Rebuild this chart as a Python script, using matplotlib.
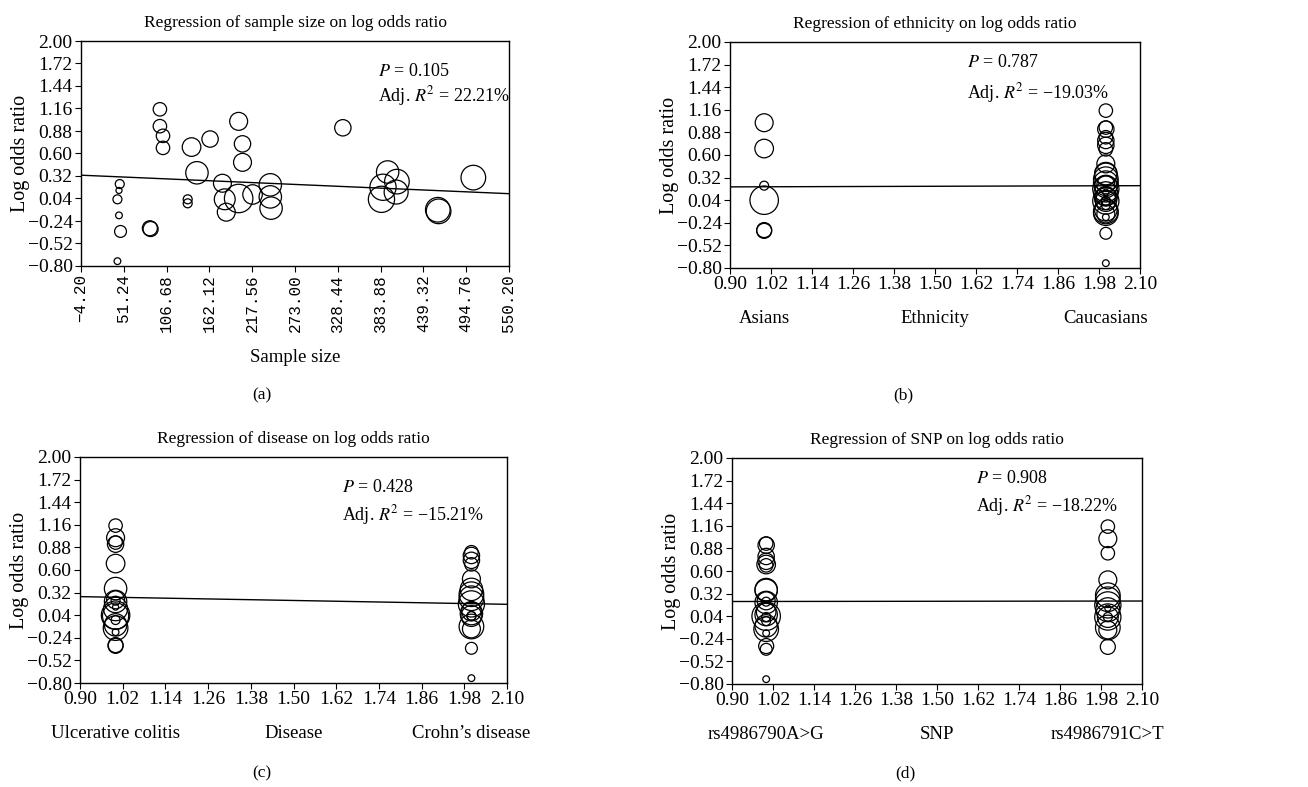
import numpy as np
import matplotlib.pyplot as plt

plt.rcParams['font.family'] = ['Liberation Serif', 'DejaVu Serif']
plt.rcParams['mathtext.fontset'] = 'stix'

# one entry per study
sample_size = [43, 46, 45, 45, 47, 43, 85, 86, 98, 98, 102, 102, 134, 134, 139, 146,
               163, 179, 182, 184, 200, 200, 205, 205, 218, 241, 241, 242, 335, 393,
               387, 385, 405, 404, 458, 459, 504]
log_or = [0.03, 0.22, 0.14, -0.17, -0.37, -0.74, -0.33, -0.34, 1.15, 0.94, 0.82, 0.67,
          0.03, -0.02, 0.68, 0.36, 0.78, 0.23, 0.03, -0.13, 1.00, 0.04, 0.72, 0.49,
          0.09, 0.21, 0.06, -0.08, 0.92, 0.37, 0.18, 0.03, 0.25, 0.12, -0.10, -0.12, 0.30]
# study weight shown as bubble radius
study_weight = [4, 4, 2.7, 3, 5.3, 3, 6.7, 6.7, 6, 6, 6, 6, 4, 4, 8.3, 10, 7.3, 8, 9.3, 8,
                8, 12.7, 7.3, 8, 8.7, 10, 10, 10, 7.3, 10, 11.7, 11.7, 11, 10.7, 11, 11, 11]
ethnicity = ['C', 'A', 'C', 'C', 'C', 'C', 'A', 'A', 'C', 'C', 'C', 'C', 'C', 'C', 'A',
             'C', 'C', 'C', 'C', 'C', 'A', 'A', 'C', 'C', 'C', 'C', 'C', 'C', 'C', 'C',
             'C', 'C', 'C', 'C', 'C', 'C', 'C']
disease = ['CD', 'UC', 'UC', 'UC', 'CD', 'CD', 'UC', 'UC', 'UC', 'UC', 'CD', 'CD', 'CD',
           'UC', 'UC', 'CD', 'CD', 'UC', 'CD', 'CD', 'UC', 'UC', 'CD', 'CD', 'CD', 'UC',
           'CD', 'UC', 'UC', 'UC', 'CD', 'UC', 'CD', 'UC', 'CD', 'UC', 'CD']
snp = ['790', '790', '791', '790', '790', '790', '790', '791', '791', '790', '791', '790',
       '791', '790', '790', '790', '790', '790', '791', '791', '791', '790', '790', '791',
       '790', '790', '790', '790', '790', '790', '791', '791', '791', '791', '791', '790', '791']

# regression line, value at left and right edge of x range
reg_sample = [0.33, 0.10]
reg_eth = [0.205, 0.22]
reg_dis = [0.27, 0.175]
reg_snp = [0.222, 0.228]

stats_sample = ['0.105', '22.21%']
stats_eth = ['0.787', '\u221219.03%']
stats_dis = ['0.428', '\u221215.21%']
stats_snp = ['0.908', '\u221218.22%']

yticks = np.round(np.arange(-0.80, 2.001, 0.28), 2)
xticks_n = np.round(np.arange(-4.20, 550.21, 55.44), 2)
xticks_cat = np.round(np.arange(0.90, 2.101, 0.12), 2)

W, H = 1308, 787
fig = plt.figure(figsize=(W / 100, H / 100), dpi=100)


def fmt(v):
    return ('%.2f' % v).replace('-', '\u2212')


def make_ax(l, t, r, b):
    return fig.add_axes([l / W, 1 - b / H, (r - l) / W, (b - t) / H])


def style(ax, xticks, xlim, title):
    ax.set_ylim(-0.80, 2.00)
    ax.set_xlim(*xlim)
    ax.set_yticks(yticks)
    ax.set_yticklabels([fmt(v) for v in yticks])
    ax.set_xticks(xticks)
    ax.tick_params(direction='out', length=4, width=0.8, labelsize=14, pad=2)
    for s in ax.spines.values():
        s.set_linewidth(1.0)
    ax.set_title(title, fontsize=12.5, pad=10)
    ax.set_ylabel('Log odds ratio', fontsize=14.5)


def bubbles(ax, x, y):
    sz = (2 * 1.12 * np.array(study_weight) * 0.72) ** 2
    ax.scatter(x, y, s=sz, facecolors='none', edgecolors='black', linewidths=0.9)


def stats(ax, x, y0, y1, vals):
    ax.text(x, y0, r'$P$ = ' + vals[0], transform=ax.transAxes, fontsize=13)
    ax.text(x, y1, r'Adj. $R^2$ = ' + vals[1], transform=ax.transAxes, fontsize=13)


# (a) sample size
ax = make_ax(81, 41, 509, 266)
bubbles(ax, sample_size, log_or)
ax.plot([-4.2, 550.2], reg_sample, color='black', lw=1)
style(ax, xticks_n, (-4.2, 550.2), 'Regression of sample size on log odds ratio')
ax.set_xticklabels([fmt(v) for v in xticks_n], rotation=90,
                   family='Liberation Mono', fontsize=11.5)
ax.set_xlabel('Sample size', fontsize=13.5)
ax.xaxis.set_label_coords(0.5, -0.37)
ax.yaxis.set_label_coords(-0.118, 0.5)
stats(ax, 0.694, 0.845, 0.73, stats_sample)


def cat_panel(l, t, r, b, groups, first, names, reg, title, st, sx, sy0, sy1):
    ax = make_ax(l, t, r, b)
    x = [1.0 if g == first else 2.0 for g in groups]
    bubbles(ax, x, log_or)
    ax.plot([0.9, 2.1], reg, color='black', lw=1)
    style(ax, xticks_cat, (0.9, 2.1), title)
    ax.set_xticklabels([fmt(v) for v in xticks_cat])
    ax.yaxis.set_label_coords(-0.12 * 428 / (r - l), 0.5)
    for xv, nm in zip([1.0, 1.5, 2.0], names):
        ax.text(xv, -0.225, nm, transform=ax.get_xaxis_transform(),
                ha='center', va='center', fontsize=13.5)
    stats(ax, sx, sy0, sy1, st)
    return ax


cat_panel(730, 42, 1140, 268, ethnicity, 'A', ['Asians', 'Ethnicity', 'Caucasians'],
          reg_eth, 'Regression of ethnicity on log odds ratio', stats_eth, 0.578, 0.89, 0.75)
cat_panel(80, 457, 507, 683, disease, 'UC',
          ['Ulcerative colitis', 'Disease', 'Crohn\u2019s disease'],
          reg_dis, 'Regression of disease on log odds ratio', stats_dis, 0.613, 0.845, 0.72)
cat_panel(732, 458, 1142, 684, snp, '790', ['rs4986790A>G', 'SNP', 'rs4986791C>T'],
          reg_snp, 'Regression of SNP on log odds ratio', stats_snp, 0.595, 0.89, 0.765)

for lab, x, y in [('(a)', 262, 395), ('(b)', 903, 395), ('(c)', 262, 773), ('(d)', 905, 773)]:
    fig.text(x / W, 1 - y / H, lab, ha='center', va='center', fontsize=12.5)

fig.savefig('out.png', dpi=100)
